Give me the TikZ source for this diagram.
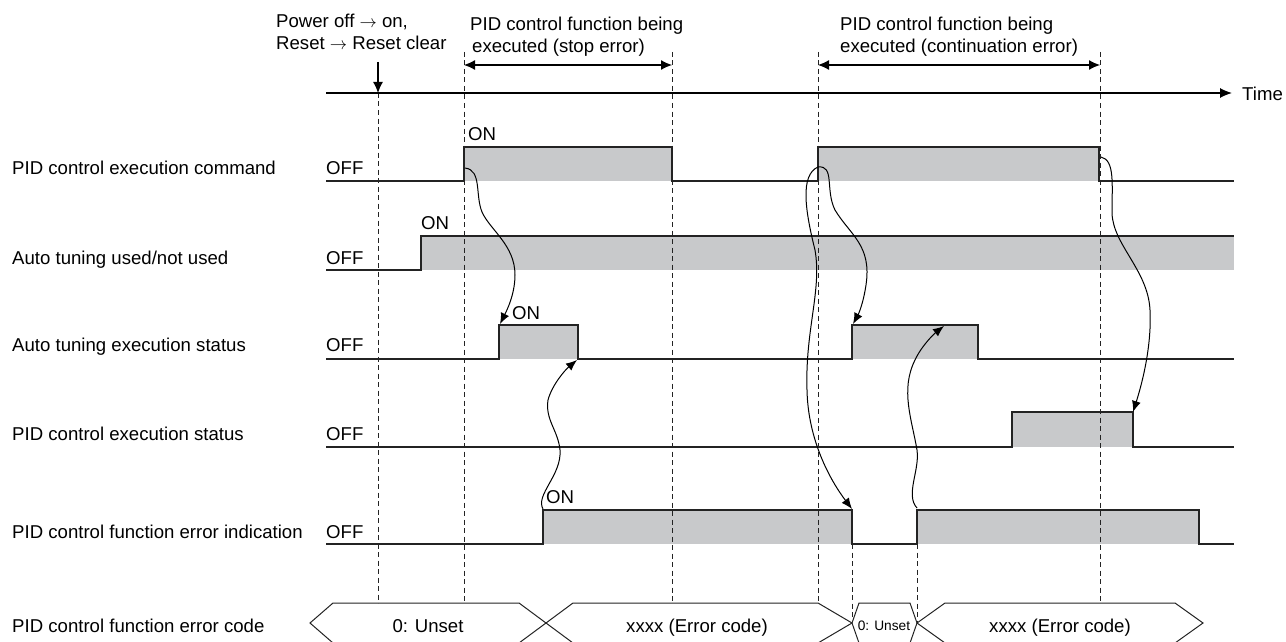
\documentclass[tikz,border=0pt]{standalone}
\usepackage{fontspec}
\setmainfont{Liberation Sans}
\usetikzlibrary{arrows.meta}
\definecolor{fillgray}{RGB}{200,201,203}
\definecolor{linegray}{RGB}{35,35,35}
\newcommand{\myarrow}{\(\rightarrow\)}
\begin{document}
\begin{tikzpicture}[x=1pt,y=-1pt,
  lbl/.style={anchor=base west,inner sep=0pt,font=\fontsize{18.6}{22}\selectfont},
  ctr/.style={anchor=base,inner sep=0pt,font=\fontsize{18.6}{22}\selectfont},
  sig/.style={line width=1.3pt,draw=linegray,line join=miter},
  hifill/.style={fill=fillgray,draw=none},
  dsh/.style={draw=linegray,dash pattern=on 5pt off 3.5pt,line width=1pt},
  cause/.style={line width=1pt,draw=black,-{Latex[length=11pt,width=9pt]}},
  busline/.style={line width=1pt,draw=linegray,line join=miter},
  head/.style={line width=1.2pt,draw=black}
]
\useasboundingbox (0,0) rectangle (1286,642);

% ---------- gray fills ----------
\fill[hifill] (464,147) rectangle (672,181);
\fill[hifill] (818,147) rectangle (1099,181);
\fill[hifill] (421,236) rectangle (1234,270);
\fill[hifill] (499,325) rectangle (578,359);
\fill[hifill] (852,325) rectangle (978,359);
\fill[hifill] (1012,412) rectangle (1133,447);
\fill[hifill] (543,510) rectangle (852,544);
\fill[hifill] (917,510) rectangle (1199,544);

% ---------- dashed time markers ----------
\draw[dsh] (378,93) -- (378,603);
\draw[dsh] (464,52) -- (464,603);
\draw[dsh] (672,52) -- (672,603);
\draw[dsh] (818,52) -- (818,603);
\draw[dsh] (1100,52) -- (1100,603);
\draw[dsh] (852,544) -- (852,621);
\draw[dsh] (917,544) -- (917,621);

% ---------- time axis ----------
\coordinate (t0) at (326,93);
\coordinate (t1) at (1232,93);
\draw[head,-{Latex[length=12pt,width=10pt]}] (t0) -- (t1);
\node[lbl] (time) at (1242,100) {Time};

% ---------- header annotations ----------
\node[lbl] (pw1) at (276,28) {Power off \myarrow{} on,};
\node[lbl] (pw2) at (276,50) {Reset \myarrow{} Reset clear};
\coordinate (pwa) at (378,62);
\coordinate (pwb) at (378,93);
\draw[head,-{Latex[length=11pt,width=10pt]}] (pwa) -- (pwb);

\node[lbl] (h1a) at (470,31) {PID control function being};
\node[lbl] (h1b) at (472,53) {executed (stop error)};
\coordinate (s1) at (464,65);
\coordinate (s2) at (672,65);
\draw[head,{Latex[length=11pt,width=10pt]}-{Latex[length=11pt,width=10pt]}] (s1) -- (s2);

\node[lbl] (h2a) at (840,31) {PID control function being};
\node[lbl] (h2b) at (840,53) {executed (continuation error)};
\coordinate (s3) at (818,65);
\coordinate (s4) at (1100,65);
\draw[head,{Latex[length=11pt,width=10pt]}-{Latex[length=11pt,width=10pt]}] (s3) -- (s4);

% ---------- row labels ----------
\node[lbl] (r1) at (12,174) {PID control execution command};
\node[lbl] (r2) at (12,264) {Auto tuning used/not used};
\node[lbl] (r3) at (12,351) {Auto tuning execution status};
\node[lbl] (r4) at (12,440) {PID control execution status};
\node[lbl] (r5) at (12,538) {PID control function error indication};
\node[lbl] (r6) at (12,632) {PID control function error code};

\node[lbl] (off1) at (326,174) {OFF};
\node[lbl] (off2) at (326,264) {OFF};
\node[lbl] (off3) at (326,351) {OFF};
\node[lbl] (off4) at (326,440) {OFF};
\node[lbl] (off5) at (326,538) {OFF};

\node[lbl] (on1) at (468,140) {ON};
\node[lbl] (on2) at (421,229) {ON};
\node[lbl] (on3) at (512,319) {ON};
\node[lbl] (on5) at (546,503) {ON};

% ---------- waveforms ----------
\draw[sig] (326,181) -| (464,147) -| (672,181) -| (818,147) -| (1099,181) -- (1234,181);
\draw[sig] (326,270) -| (421,236) -- (1234,236);
\draw[sig] (326,359) -| (499,325) -| (578,359) -| (852,325) -| (978,359) -- (1234,359);
\draw[sig] (326,447) -| (1012,412) -| (1133,447) -- (1234,447);
\draw[sig] (326,544) -| (543,510) -| (852,544) -| (917,510) -| (1199,544) -- (1234,544);

% ---------- error code bus ----------
\draw[busline] (310,623) -- (333,603) -- (519,603) -- (546,623) -- (519,643) -- (333,643) -- cycle;
\draw[busline] (546,623) -- (573,603) -- (818,603) -- (852,623) -- (818,643) -- (573,643) -- cycle;
\draw[busline] (852,623) -- (859,603) -- (910,603) -- (917,623) -- (910,643) -- (859,643) -- cycle;
\draw[busline] (917,623) -- (945,603) -- (1175,603) -- (1203,623) -- (1175,643) -- (945,643) -- cycle;
\node[ctr] (b1) at (428,632) {0: Unset};
\node[ctr] (b2) at (697,632) {xxxx (Error code)};
\node[anchor=base,inner sep=0pt,font=\fontsize{13.7}{16}\selectfont] (b3) at (884,630) {0: Unset};
\node[ctr] (b4) at (1060,632) {xxxx (Error code)};

% ---------- cause/effect arrows ----------
\coordinate (c1s) at (465,168);
\coordinate (c1e) at (500,324);
\draw[cause] (c1s) .. controls (482,170) and (475,195) .. (482,212)
  .. controls (490,230) and (515,245) .. (515,275)
  .. controls (515,295) and (506,312) .. (c1e);

\coordinate (c2s) at (543,509);
\coordinate (c2e) at (577,360);
\draw[cause] (c2s) .. controls (535,495) and (562,475) .. (560,450)
  .. controls (558,430) and (545,420) .. (548,400)
  .. controls (552,385) and (565,370) .. (c2e);

\coordinate (c3s) at (818,167);
\coordinate (c3e) at (852,509);
\draw[cause] (c3s) .. controls (800,175) and (805,210) .. (815,250)
  .. controls (822,290) and (805,330) .. (807,390)
  .. controls (808,440) and (830,480) .. (c3e);

\coordinate (c4s) at (818,167);
\coordinate (c4e) at (853,324);
\draw[cause] (c4s) .. controls (835,165) and (825,190) .. (835,210)
  .. controls (850,235) and (872,245) .. (866,285)
  .. controls (863,305) and (858,315) .. (c4e);

\coordinate (c5s) at (917,508);
\coordinate (c5e) at (944,326);
\draw[cause] (c5s) .. controls (905,495) and (920,470) .. (917,450)
  .. controls (912,420) and (900,390) .. (915,360)
  .. controls (922,345) and (935,333) .. (c5e);

\coordinate (c6s) at (1101,157);
\coordinate (c6e) at (1133,412);
\draw[cause] (c6s) .. controls (1115,160) and (1112,185) .. (1112,213)
  .. controls (1113,245) and (1148,270) .. (1150,310)
  .. controls (1152,350) and (1140,390) .. (c6e);
\end{tikzpicture}
\end{document}
